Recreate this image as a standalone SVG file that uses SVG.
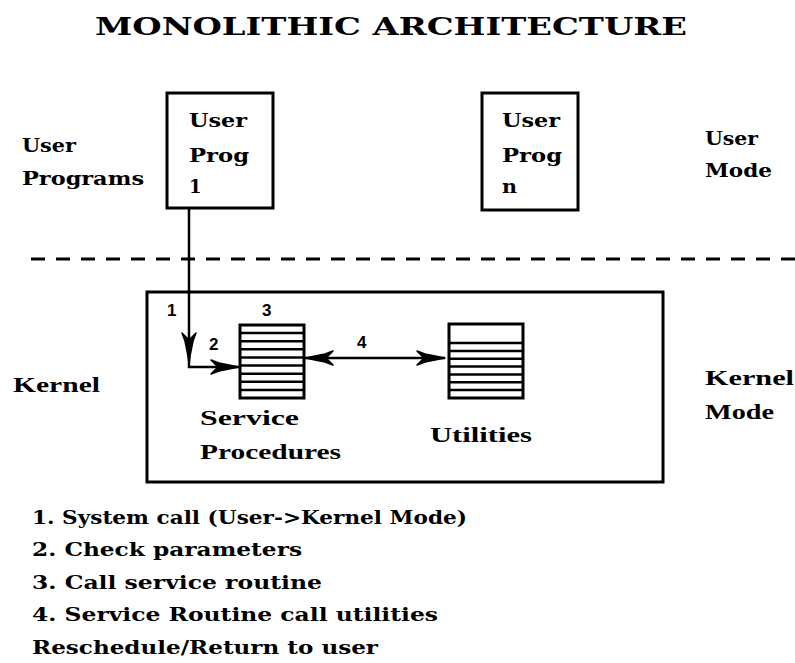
<svg xmlns="http://www.w3.org/2000/svg" width="795" height="663" viewBox="0 0 795 663">
<style>
  .w { font-family: "DejaVu Serif", "Liberation Serif", serif; font-weight: bold; fill: #000; }
  .t { font-family: "Liberation Serif", "Times New Roman", serif; font-weight: bold; fill: #000; font-size: 22px; }
  .n { font-family: "Liberation Sans", Arial, sans-serif; font-weight: bold; fill: #000; font-size: 17px; }
  .box { fill: none; stroke: #000; stroke-width: 3; }
  .line { fill: none; stroke: #000; stroke-width: 2.5; }
  .stripe { stroke: #000; stroke-width: 2.5; }
</style>
<defs>
  <marker id="arr" viewBox="-32 -8 33 16" refX="0" refY="0" markerWidth="33" markerHeight="16" markerUnits="userSpaceOnUse" orient="auto-start-reverse">
    <path d="M0,0 L-20,-4 L-28,-7 L-22,-1 L-22,1 L-28,7 L-20,4 Z" fill="#000" stroke="#000" stroke-width="1.5" stroke-linejoin="round"/>
  </marker>
</defs>
<rect width="795" height="663" fill="#fff"/>

<text class="w" x="95" y="35" font-size="25" textLength="592" lengthAdjust="spacingAndGlyphs">MONOLITHIC ARCHITECTURE</text>

<g id="user-programs-label">
  <text class="w" x="22" y="152" font-size="18" textLength="54" lengthAdjust="spacingAndGlyphs">User</text>
  <text class="w" x="22" y="185" font-size="18" textLength="122" lengthAdjust="spacingAndGlyphs">Programs</text>
</g>

<g id="user-prog-1">
  <rect class="box" x="167" y="93" width="106" height="115"/>
  <text class="w" x="189" y="127" font-size="18" textLength="58" lengthAdjust="spacingAndGlyphs">User</text>
  <text class="w" x="189" y="162" font-size="18" textLength="60" lengthAdjust="spacingAndGlyphs">Prog</text>
  <text class="w" x="189" y="193" font-size="18">1</text>
</g>

<g id="user-prog-n">
  <rect class="box" x="482" y="93" width="96" height="117"/>
  <text class="w" x="502" y="127" font-size="18" textLength="58" lengthAdjust="spacingAndGlyphs">User</text>
  <text class="w" x="502" y="162" font-size="18" textLength="60" lengthAdjust="spacingAndGlyphs">Prog</text>
  <text class="w" x="502" y="193" font-size="18" textLength="15" lengthAdjust="spacingAndGlyphs">n</text>
</g>

<g id="user-mode-label">
  <text class="w" x="705" y="145" font-size="18" textLength="53" lengthAdjust="spacingAndGlyphs">User</text>
  <text class="w" x="705" y="177" font-size="18" textLength="67" lengthAdjust="spacingAndGlyphs">Mode</text>
</g>

<g id="mode-divider">
  <line x1="31" y1="259" x2="795" y2="259" stroke="#000" stroke-width="3" stroke-dasharray="14 11"/>
</g>

<g id="kernel-label">
  <text class="t" x="13" y="392" textLength="87" lengthAdjust="spacingAndGlyphs">Kernel</text>
</g>

<g id="kernel-mode-label">
  <text class="t" x="705" y="385" textLength="89" lengthAdjust="spacingAndGlyphs">Kernel</text>
  <text class="t" x="705" y="419" textLength="69" lengthAdjust="spacingAndGlyphs">Mode</text>
</g>

<g id="kernel">
  <rect class="box" x="147" y="292" width="516" height="190"/>
</g>

<g id="service-procedures">
  <rect class="box" x="240" y="325" width="64" height="73"/>
  <g class="stripe">
    <line x1="240" y1="333.1" x2="304" y2="333.1"/>
    <line x1="240" y1="341.2" x2="304" y2="341.2"/>
    <line x1="240" y1="349.3" x2="304" y2="349.3"/>
    <line x1="240" y1="357.4" x2="304" y2="357.4"/>
    <line x1="240" y1="365.6" x2="304" y2="365.6"/>
    <line x1="240" y1="373.7" x2="304" y2="373.7"/>
    <line x1="240" y1="381.8" x2="304" y2="381.8"/>
    <line x1="240" y1="389.9" x2="304" y2="389.9"/>
  </g>
  <text class="t" x="200" y="425" textLength="99" lengthAdjust="spacingAndGlyphs">Service</text>
  <text class="t" x="200" y="459" textLength="141" lengthAdjust="spacingAndGlyphs">Procedures</text>
</g>

<g id="utilities">
  <rect class="box" x="449" y="324" width="74" height="74"/>
  <g class="stripe">
    <line x1="449" y1="343" x2="523" y2="343"/>
    <line x1="449" y1="350.9" x2="523" y2="350.9"/>
    <line x1="449" y1="358.7" x2="523" y2="358.7"/>
    <line x1="449" y1="366.6" x2="523" y2="366.6"/>
    <line x1="449" y1="374.4" x2="523" y2="374.4"/>
    <line x1="449" y1="382.3" x2="523" y2="382.3"/>
    <line x1="449" y1="390.1" x2="523" y2="390.1"/>
  </g>
  <text class="t" x="430" y="442" textLength="102" lengthAdjust="spacingAndGlyphs">Utilities</text>
</g>

<g id="connectors">
  <path class="line" d="M189,208 L189,361" marker-end="url(#arr)"/>
  <path class="line" d="M189,355 L189,367 L239,367" marker-end="url(#arr)"/>
  <path class="line" d="M305,358 L445,358" marker-start="url(#arr)" marker-end="url(#arr)"/>
  <text class="n" x="167" y="316">1</text>
  <text class="n" x="209" y="350">2</text>
  <text class="n" x="262" y="316">3</text>
  <text class="n" x="357" y="348">4</text>
</g>

<g id="legend">
  <text class="w" x="32" y="524" font-size="19" textLength="435" lengthAdjust="spacingAndGlyphs">1. System call (User-&gt;Kernel Mode)</text>
  <text class="w" x="32" y="556" font-size="19" textLength="270" lengthAdjust="spacingAndGlyphs">2. Check parameters</text>
  <text class="w" x="32" y="589" font-size="19" textLength="290" lengthAdjust="spacingAndGlyphs">3. Call service routine</text>
  <text class="w" x="32" y="621" font-size="19" textLength="406" lengthAdjust="spacingAndGlyphs">4. Service Routine call utilities</text>
  <text class="w" x="32" y="654" font-size="19" textLength="346" lengthAdjust="spacingAndGlyphs">Reschedule/Return to user</text>
</g>
</svg>
